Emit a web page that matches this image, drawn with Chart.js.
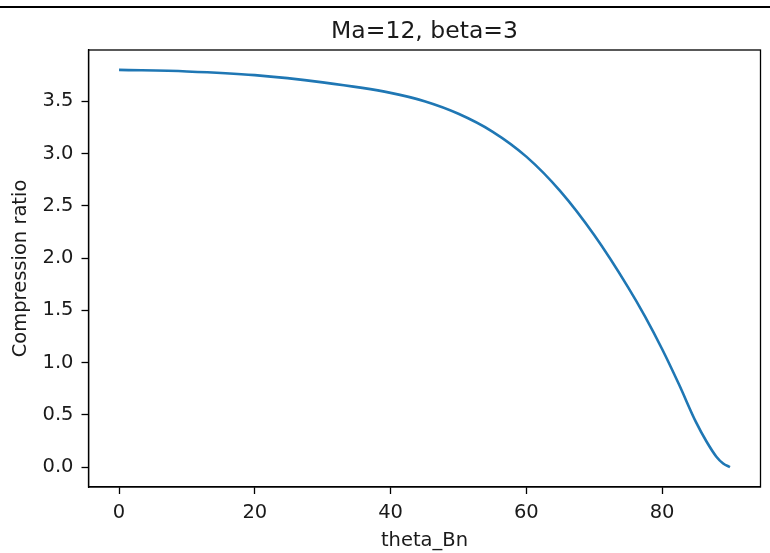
<!DOCTYPE html>
<html>
<head>
<meta charset="utf-8">
<script src="https://cdn.jsdelivr.net/npm/chart.js@4"></script>
<style>
  html, body { margin: 0; padding: 0; background: #fff; }
  #wrap { position: relative; width: 770px; height: 553px; }
  #topline { position: absolute; left: 0; top: 6px; width: 770px; height: 2px; background: #000; }
  canvas { position: absolute; left: 0; top: 0; }
</style>
</head>
<body>
<div id="wrap">
  <canvas id="c" width="770" height="553"></canvas>
  <div id="topline"></div>
</div>
<script>
// ---- data ----
const chartTitle = "Ma=12, beta=3";
const xLabel = "theta_Bn";
const yLabel = "Compression ratio";
const thetaBn = [0, 10, 20, 30, 40, 45, 50, 55, 60, 65, 70, 75, 77.5, 80, 82.5, 85, 86.5, 88, 89, 90];
const compression = [3.80, 3.785, 3.75, 3.68, 3.58, 3.50, 3.38, 3.21, 2.97, 2.64, 2.22, 1.72, 1.44, 1.13, 0.79, 0.43, 0.25, 0.10, 0.035, 0.0];
const xTicks = [0, 20, 40, 60, 80];
const yTicks = [0, 0.5, 1.0, 1.5, 2.0, 2.5, 3.0, 3.5];

const points = thetaBn.map((t, i) => ({ x: t, y: compression[i] }));
const FONT = "'DejaVu Sans', sans-serif";
const TXT = "#1a1a1a";

const framePlugin = {
  id: 'frame',
  afterDraw(chart) {
    const { ctx, chartArea: a } = chart;
    ctx.save();
    ctx.strokeStyle = '#000';
    ctx.lineWidth = 1.3;
    ctx.strokeRect(a.left, a.top, a.right - a.left, a.bottom - a.top);
    ctx.restore();
  }
};

new Chart(document.getElementById('c'), {
  type: 'scatter',
  data: {
    datasets: [{
      data: points,
      showLine: true,
      borderColor: '#1f77b4',
      backgroundColor: '#1f77b4',
      borderWidth: 2.6,
      pointRadius: 0,
      cubicInterpolationMode: 'monotone',
      fill: false
    }]
  },
  options: {
    responsive: false,
    animation: false,
    layout: { padding: { left: 0, right: 9.5, top: 0, bottom: 0 } },
    plugins: {
      legend: { display: false },
      tooltip: { enabled: false },
      title: {
        display: true,
        fullSize: false,
        text: chartTitle,
        color: TXT,
        font: { family: FONT, size: 23.5, weight: 'normal', lineHeight: 1.2 },
        padding: { top: 18, bottom: 3.8 }
      }
    },
    scales: {
      x: {
        type: 'linear',
        min: -4.5,
        max: 94.5,
        afterBuildTicks(s) { s.ticks = xTicks.map(v => ({ value: v })); },
        afterFit(s) { s.height = 66; },
        ticks: {
          color: TXT,
          font: { family: FONT, size: 19.5 },
          padding: 7,
          maxRotation: 0,
          callback: v => String(v)
        },
        grid: { display: true, drawOnChartArea: false, drawTicks: true, tickLength: 7, tickColor: '#000', tickWidth: 1.3 },
        border: { display: true, color: '#000', width: 1.3 },
        title: {
          display: true,
          text: xLabel,
          color: TXT,
          font: { family: FONT, size: 19.5, lineHeight: 1.2 },
          padding: { top: 0, bottom: 0 }
        }
      },
      y: {
        type: 'linear',
        min: -0.19,
        max: 3.99,
        afterBuildTicks(s) { s.ticks = yTicks.map(v => ({ value: v })); },
        afterFit(s) { s.width = 88.5; },
        ticks: {
          color: TXT,
          font: { family: FONT, size: 19.5 },
          padding: 8,
          callback: v => Number(v).toFixed(1)
        },
        grid: { display: true, drawOnChartArea: false, drawTicks: true, tickLength: 7, tickColor: '#000', tickWidth: 1.3 },
        border: { display: true, color: '#000', width: 1.3 },
        title: {
          display: true,
          text: yLabel,
          color: TXT,
          font: { family: FONT, size: 19.5, lineHeight: 1.2 },
          padding: { top: 9, bottom: 0 }
        }
      }
    }
  },
  plugins: [framePlugin]
});
</script>
</body>
</html>
